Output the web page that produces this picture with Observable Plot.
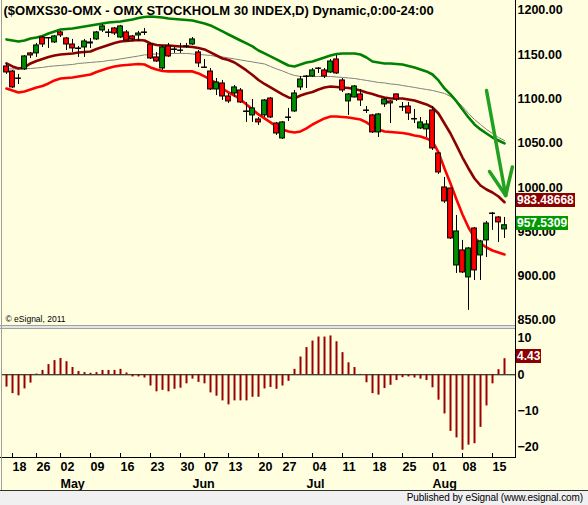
<!DOCTYPE html>
<html><head><meta charset="utf-8">
<script src="https://cdn.jsdelivr.net/npm/d3@7"></script>
<script src="https://cdn.jsdelivr.net/npm/@observablehq/plot@0.6"></script>
<style>
html,body{margin:0;padding:0;background:#FFFFE0;}
#wrap{position:relative;width:588px;height:505px;background:#FFFFE0;overflow:hidden;font-family:"Liberation Sans",Arial,sans-serif;}
#wrap svg{position:absolute;left:0;}
.line{position:absolute;}
.vlabel{position:absolute;left:516px;color:#fff;font:bold 12px "Liberation Sans",Arial,sans-serif;line-height:14px;padding:0 1px;white-space:nowrap;}
#footer{position:absolute;left:0;top:491px;width:588px;height:14px;background:#F0F0F0;font:10px "Liberation Sans",Arial,sans-serif;letter-spacing:-0.1px;line-height:14px;text-align:right;color:#000;}
#footer span{padding-right:5px;}
</style></head><body><div id="wrap"></div>
<script>
const title = "($OMXS30-OMX - OMX STOCKHOLM 30 INDEX,D) Dynamic,0:00-24:00";
const dates = [
"2011-04-15","2011-04-18","2011-04-19","2011-04-20","2011-04-21","2011-04-26","2011-04-27","2011-04-28","2011-04-29",
"2011-05-02","2011-05-03","2011-05-04","2011-05-05","2011-05-06",
"2011-05-09","2011-05-10","2011-05-11","2011-05-12","2011-05-13",
"2011-05-16","2011-05-17","2011-05-18","2011-05-19","2011-05-20",
"2011-05-23","2011-05-24","2011-05-25","2011-05-26","2011-05-27",
"2011-05-30","2011-05-31","2011-06-01","2011-06-03",
"2011-06-07","2011-06-08","2011-06-09","2011-06-10",
"2011-06-13","2011-06-14","2011-06-15","2011-06-16","2011-06-17",
"2011-06-20","2011-06-21","2011-06-22","2011-06-23",
"2011-06-27","2011-06-28","2011-06-29","2011-06-30","2011-07-01",
"2011-07-04","2011-07-05","2011-07-06","2011-07-07","2011-07-08",
"2011-07-11","2011-07-12","2011-07-13","2011-07-14","2011-07-15",
"2011-07-18","2011-07-19","2011-07-20","2011-07-21","2011-07-22",
"2011-07-25","2011-07-26","2011-07-27","2011-07-28","2011-07-29",
"2011-08-01","2011-08-02","2011-08-03","2011-08-04","2011-08-05",
"2011-08-08","2011-08-09","2011-08-10","2011-08-11","2011-08-12",
"2011-08-15","2011-08-16","2011-08-17"];
const opens = [1136.8,1131.1,1123.2,1133.4,1151.5,1151.5,1169.5,1168.9,1163.9,1175.2,
1168.4,1161.6,1157.1,1158.2,1162.7,1167.3,1177.4,1175.2,1179.7,1169.5,
1175.2,1170.7,1171.8,1175.2,1161.6,1147.0,1134.5,1159.4,1156.0,1154.8,
1159.4,1161.6,1152.6,1135.6,1131.1,1110.8,1117.6,1102.9,1106.3,1109.7,
1086.0,1081.5,1076.9,1081.5,1100.6,1072.4,1055.5,1079.2,1086.0,1113.1,
1125.5,1125.5,1134.5,1132.3,1130.0,1144.7,1121.0,1097.3,1101.8,1105.2,
1087.1,1081.5,1062.3,1093.9,1097.3,1105.2,1090.5,1091.6,1076.9,1066.8,
1065.7,1087.1,1038.6,1000.2,999.0,912.1,929.1,898.6,953.9,923.4,
940.4,970.8,966.3,952.8];
const highs = [1140.2,1132.3,1127.8,1149.2,1152.6,1162.8,1170.7,1169.5,1171.8,1176.3,
1169.5,1167.3,1159.4,1167.3,1168.4,1176.3,1184.2,1178.6,1180.8,1183.1,
1177.4,1171.8,1176.3,1179.7,1162.7,1152.6,1160.5,1162.8,1158.2,1162.8,
1162.8,1169.5,1154.8,1144.7,1134.5,1123.2,1121.0,1106.3,1115.3,1111.9,
1096.1,1099.5,1079.2,1099.5,1101.8,1073.6,1074.7,1089.4,1109.7,1125.5,
1126.6,1134.5,1135.6,1134.5,1144.7,1149.2,1123.2,1106.3,1115.3,1110.8,
1091.6,1082.6,1083.7,1100.6,1098.4,1105.7,1096.1,1096.1,1088.2,1079.2,
1075.8,1091.6,1039.7,1011.5,999.0,968.6,940.4,932.4,955.0,940.4,
961.8,971.9,967.4,966.3];
const lows = [1127.8,1111.9,1116.4,1132.3,1145.8,1147.0,1158.2,1157.1,1162.7,1169.5,
1154.8,1152.6,1147.0,1147.0,1157.1,1166.1,1175.2,1169.5,1171.8,1168.4,
1165.0,1165.0,1165.0,1171.8,1144.7,1141.3,1132.3,1147.0,1151.5,1151.5,
1157.1,1160.5,1135.6,1134.5,1109.7,1104.0,1098.4,1095.0,1101.8,1095.0,
1073.6,1073.6,1070.2,1079.2,1078.1,1058.9,1054.4,1074.7,1084.9,1109.7,
1111.9,1124.4,1128.9,1123.2,1128.9,1127.8,1107.4,1081.5,1101.2,1091.6,
1083.7,1061.1,1056.6,1090.5,1072.4,1097.3,1086.0,1075.8,1072.4,1065.7,
1056.6,1041.9,1014.9,982.1,941.5,903.1,903.1,861.4,895.2,895.2,
921.1,951.7,938.1,942.6];
const closes = [1130.0,1113.1,1122.7,1148.1,1149.2,1160.5,1161.6,1168.4,1170.7,1171.8,
1161.6,1157.1,1156.5,1165.0,1163.9,1175.2,1182.0,1174.6,1174.0,1182.0,
1166.1,1167.3,1174.0,1174.6,1145.8,1142.4,1158.2,1148.1,1155.4,1154.3,
1158.8,1167.3,1140.2,1135.1,1110.8,1118.7,1102.9,1097.3,1113.1,1096.1,
1085.4,1089.4,1073.6,1098.4,1079.2,1061.1,1073.6,1078.6,1106.3,1122.1,
1124.9,1132.3,1134.0,1125.5,1142.4,1128.9,1109.7,1105.2,1114.2,1098.4,
1086.5,1062.3,1082.6,1099.5,1095.0,1099.5,1091.1,1083.7,1077.5,1073.6,
1071.3,1044.2,1017.1,984.4,942.6,950.5,904.2,931.3,906.5,939.2,
959.5,970.2,960.7,957.5309];
const upperBand = [1167.3,1166.1,1165.0,1166.1,1168.4,1169.5,1171.2,1174.0,1176.3,1178.6,
1179.1,1179.7,1180.8,1181.9,1183.1,1184.2,1185.3,1186.5,1187.0,1187.6,
1188.7,1189.8,1191.5,1192.7,1193.2,1192.7,1192.1,1191.0,1190.4,1189.8,
1189.3,1188.7,1187.0,1185.3,1183.1,1179.7,1176.3,1172.9,1169.5,1166.1,
1162.8,1159.4,1154.8,1151.5,1148.1,1144.7,1141.3,1137.9,1136.8,1139.0,
1141.3,1142.4,1144.7,1146.9,1149.2,1150.9,1151.5,1151.5,1151.5,1150.3,
1146.9,1142.4,1141.3,1140.2,1140.2,1139.6,1139.0,1137.4,1135.7,1133.4,
1131.2,1127.7,1121.0,1112.0,1105.2,1097.3,1088.2,1079.2,1071.3,1065.7,
1061.1,1056.6,1053.2,1049.9];
const midBand = [1140.2,1136.8,1134.5,1135.7,1140.2,1143.0,1145.3,1147.5,1149.2,1150.3,
1150.9,1151.5,1152.6,1153.2,1153.7,1156.5,1158.8,1161.1,1163.3,1165.0,
1165.6,1166.1,1166.7,1166.1,1162.8,1161.1,1160.5,1160.5,1159.9,1159.4,
1159.4,1158.8,1157.7,1156.0,1152.6,1149.2,1145.8,1144.1,1141.3,1136.8,
1132.3,1127.2,1121.5,1117.0,1113.1,1109.1,1105.2,1101.8,1100.7,1104.0,
1106.3,1108.0,1110.8,1113.1,1114.2,1113.6,1113.1,1112.5,1111.4,1109.7,
1107.4,1105.7,1103.5,1101.8,1100.7,1100.7,1100.7,1099.5,1098.4,1096.1,
1093.9,1090.5,1083.7,1072.4,1061.1,1047.6,1034.0,1021.6,1010.3,1002.4,
997.9,994.5,990.0,983.48668];
const lowerBand = [1111.9,1109.7,1107.4,1108.6,1110.8,1113.1,1114.8,1117.6,1121.0,1123.2,
1123.8,1124.4,1125.5,1126.6,1127.7,1130.6,1132.8,1135.1,1136.8,1137.9,
1138.5,1139.0,1139.6,1139.0,1135.7,1133.4,1131.7,1131.2,1131.2,1131.2,
1131.2,1131.2,1128.9,1125.5,1122.1,1117.6,1111.9,1107.4,1104.0,1099.5,
1093.9,1088.2,1082.6,1078.1,1073.6,1069.0,1065.7,1063.4,1062.3,1063.4,
1066.8,1071.3,1074.7,1078.1,1080.3,1080.3,1079.8,1079.2,1078.1,1076.9,
1073.6,1069.0,1065.7,1063.4,1062.8,1062.3,1061.7,1060.6,1058.9,1057.8,
1055.5,1052.1,1039.7,1021.6,1004.7,986.6,969.7,955.0,943.7,937.0,
932.4,929.0,926.8,924.5];
const grayAverage = [1134.0,1134.0,1134.0,1134.5,1134.5,1135.1,1135.7,1136.8,1137.4,1137.9,
1138.5,1139.0,1140.2,1140.7,1141.3,1141.9,1142.4,1143.6,1144.1,1145.3,
1146.4,1147.5,1148.6,1149.8,1150.3,1150.9,1151.5,1151.5,1151.5,1151.5,
1151.5,1150.9,1150.3,1149.8,1149.2,1148.1,1147.5,1146.4,1145.3,1144.1,
1143.0,1141.9,1140.7,1139.6,1136.8,1134.0,1131.7,1128.9,1126.6,1125.5,
1125.5,1125.5,1125.5,1125.5,1125.5,1124.9,1124.4,1123.8,1123.2,1122.1,
1121.0,1119.9,1118.7,1118.2,1117.0,1116.5,1115.3,1114.2,1113.1,1111.9,
1110.8,1109.7,1108.0,1106.3,1102.9,1098.4,1091.6,1083.7,1076.9,1071.3,
1065.7,1061.1,1056.6,1053.2];
const oscillator = [-3.4,-5.2,-5.8,-3.9,-2.3,0.2,1.2,2.8,3.9,4.5,
3.6,2.0,0.9,0.6,0.4,0.6,1.2,1.2,1.2,1.5,
0.5,-0.6,-0.6,-0.9,-3.1,-4.7,-4.3,-4.7,-4.0,-3.7,
-2.5,-1.2,-2.1,-2.5,-5.0,-5.9,-7.2,-8.3,-7.2,-7.2,
-7.2,-6.2,-6.2,-3.9,-3.5,-4.0,-3.1,-1.8,1.5,4.9,
7.5,9.3,10.4,10.4,10.7,9.1,6.1,3.3,2.0,0.1,
-2.2,-5.2,-5.6,-3.8,-2.9,-1.6,-0.8,-0.6,-0.9,-1.2,
-1.6,-3.6,-7.0,-10.8,-15.6,-17.4,-20.8,-19.4,-19.0,-14.5,
-8.6,-2.5,1.4,4.43];
const dayTicks = ["2011-04-18","2011-04-26","2011-05-02","2011-05-09","2011-05-16","2011-05-23","2011-05-30",
"2011-06-07","2011-06-13","2011-06-20","2011-06-27","2011-07-04","2011-07-11","2011-07-18","2011-07-25",
"2011-08-01","2011-08-08","2011-08-15"];
const monthNames = ["May","Jun","Jul","Aug"];
const monthStarts = ["2011-05-02","2011-06-01","2011-07-01","2011-08-01"];
const priceTicks = [850,900,950,1000,1050,1100,1150,1200];
const oscTicks = [-20,-10,0,10];
const lastMid = 983.48668, lastClose = 957.5309, lastOsc = 4.43;
// hand-drawn annotation arrow, in bar-index / price units
const arrowFromBar = [80, 80.5, 83.2];
const arrowFromPrice = [1109.7, 1018.2, 991.1];
const arrowToBar = [83.2, 83.2, 84.3];
const arrowToPrice = [991.1, 991.1, 1023.2];

const GREEN = "#008f00", RED = "#ff0000", DARKRED = "#8b0000";
const candles = dates.map((d, i) => ({i, date: d, open: opens[i], high: highs[i], low: lows[i], close: closes[i],
  upper: upperBand[i], mid: midBand[i], lower: lowerBand[i], avg: grayAverage[i], osc: oscillator[i]}));
const arrow = arrowFromBar.map((b, k) => ({x1: b, y1: arrowFromPrice[k], x2: arrowToBar[k], y2: arrowToPrice[k]}));
const idx = d => dates.indexOf(d);
const xDomain = [-0.667, 84.833];
const baseStyle = {background: "transparent", fontFamily: "'Liberation Sans', Arial, sans-serif", fontSize: "12.5px", fontWeight: "bold", color: "#000", overflow: "visible"};

const topChart = Plot.plot({
  width: 588, height: 328, marginLeft: 2, marginRight: 73, marginTop: 2, marginBottom: 2,
  style: baseStyle,
  x: {type: "linear", domain: xDomain, axis: null, label: null},
  y: {domain: [843.2, 1209.0], label: null},
  marks: [
    Plot.axisY({anchor: "right", ticks: priceTicks, tickSize: 0, tickPadding: 2, tickFormat: d => d.toFixed(2), label: null}),
    Plot.line(candles, {x: "i", y: "avg", stroke: "#808080", strokeWidth: 1}),
    Plot.line(candles, {x: "i", y: "upper", stroke: "#008000", strokeWidth: 2.6}),
    Plot.line(candles, {x: "i", y: "lower", stroke: RED, strokeWidth: 2.6}),
    Plot.line(candles, {x: "i", y: "mid", stroke: DARKRED, strokeWidth: 2.6}),
    Plot.ruleX(candles, {x: "i", y1: "low", y2: "high", stroke: "#000", strokeWidth: 1}),
    Plot.rect(candles, {x1: d => d.i - 0.4, x2: d => d.i + 0.4, y1: "open", y2: "close",
      fill: d => d.close > d.open ? GREEN : RED, stroke: "#000", strokeWidth: 1}),
    Plot.link(arrow, {x1: "x1", y1: "y1", x2: "x2", y2: "y2", stroke: "#22a022", strokeWidth: 3.5, strokeLinecap: "round"}),
    Plot.text([title], {frameAnchor: "top-left", dx: 1, dy: 8, lineAnchor: "middle", textAnchor: "start", fontSize: 13}),
    Plot.text(["© eSignal, 2011"], {frameAnchor: "bottom-left", dx: 3, dy: -7, lineAnchor: "middle", textAnchor: "start", fontSize: 8.5, fontWeight: "normal"})
  ]
});

const bottomChart = Plot.plot({
  width: 588, height: 162, marginLeft: 2, marginRight: 73, marginTop: 1, marginBottom: 34,
  style: baseStyle,
  x: {type: "linear", domain: xDomain, label: null},
  y: {domain: [-22.8, 12.2], label: null},
  marks: [
    Plot.ruleY([0], {stroke: "#000", strokeWidth: 1}),
    Plot.ruleX(candles, {x: "i", y1: 0, y2: "osc", stroke: "#990000", strokeWidth: 2}),
    Plot.axisY({anchor: "right", ticks: oscTicks, tickSize: 0, tickPadding: 2, label: null}),
    Plot.axisX({ticks: dayTicks.map(idx), tickFormat: i => dates[i].slice(8), tickSize: 0, tickPadding: 5, textAnchor: "start", label: null}),
    Plot.ruleX(dayTicks.map(idx), {x: d => d, insetTop: 123, stroke: "#000"}),
    Plot.text(monthNames, {x: (d, k) => idx(monthStarts[k]), frameAnchor: "bottom", dy: 26, textAnchor: "start", lineAnchor: "middle"})
  ]
});

const wrap = document.getElementById("wrap");
topChart.style.top = "0px";
bottomChart.style.top = "329px";
wrap.appendChild(topChart);
wrap.appendChild(bottomChart);

function addLine(left, top, width, height, color) {
  const el = document.createElement("div");
  el.className = "line";
  Object.assign(el.style, {left: left + "px", top: top + "px", width: width + "px", height: height + "px", background: color});
  wrap.appendChild(el);
}
// panel divider, frame lines
addLine(0, 325, 515, 1, "#a0a0a0");
addLine(0, 326, 515, 2, "#e4e4e4");
addLine(0, 328, 515, 1, "#a0a0a0");
addLine(515, 0, 1, 458, "#000");
addLine(0, 457, 516, 1, "#000");
addLine(1, 0, 1, 490, "#a0a0a0");
addLine(0, 490, 588, 1, "#303030");

const footer = document.createElement("div");
footer.id = "footer";
footer.innerHTML = "<span>Published by eSignal (www.esignal.com)</span>";
wrap.appendChild(footer);

function addValueLabel(text, y, bg) {
  const el = document.createElement("div");
  el.className = "vlabel";
  el.textContent = text;
  el.style.top = (y - 9) + "px";
  el.style.background = bg;
  wrap.appendChild(el);
}
const yTop = topChart.scale("y"), yBot = bottomChart.scale("y");
addValueLabel(String(lastMid), yTop.apply(lastMid), DARKRED);
addValueLabel(String(lastClose), yTop.apply(lastClose), "#009900");
addValueLabel(lastOsc.toFixed(2), 329 + yBot.apply(lastOsc), DARKRED);
</script></body></html>
